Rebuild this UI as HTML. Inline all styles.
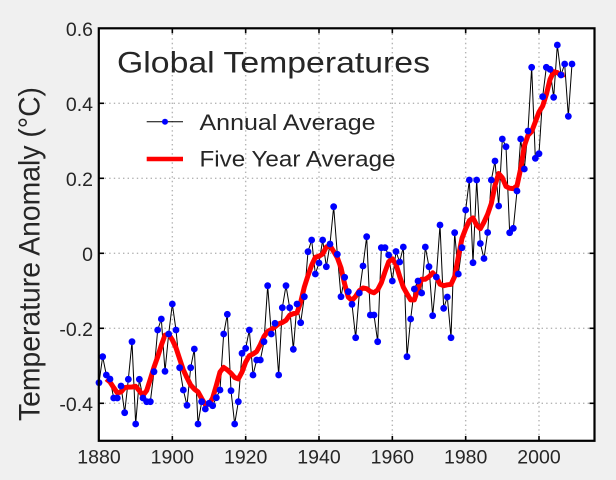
<!DOCTYPE html>
<html>
<head>
<meta charset="utf-8">
<style>
html,body{margin:0;padding:0;background:#f0f0f0;}
svg{display:block;}
text{font-family:"Liberation Sans",Arial,sans-serif;fill:#262626;}
</style>
</head>
<body>
<svg width="616" height="480" viewBox="0 0 616 480" xmlns="http://www.w3.org/2000/svg">
<defs>
<marker id="dot" markerUnits="userSpaceOnUse" markerWidth="8" markerHeight="8" refX="4" refY="4" overflow="visible">
<circle cx="4" cy="4" r="3.4" fill="#0000ff"/>
</marker>
</defs>
<rect x="0" y="0" width="616" height="480" fill="#f0f0f0"/>
<rect x="98.8" y="28.3" width="495.7" height="412.5" fill="#ffffff"/>

<!-- grid -->
<g stroke="#b4b4b4" stroke-width="1.4" stroke-dasharray="1.4 3.2" fill="none">
<line x1="172.33" y1="29" x2="172.33" y2="440"/>
<line x1="245.67" y1="29" x2="245.67" y2="440"/>
<line x1="319" y1="29" x2="319" y2="440"/>
<line x1="392.33" y1="29" x2="392.33" y2="440"/>
<line x1="465.67" y1="29" x2="465.67" y2="440"/>
<line x1="539" y1="29" x2="539" y2="440"/>
<line x1="100" y1="103.3" x2="594" y2="103.3"/>
<line x1="100" y1="178.3" x2="594" y2="178.3"/>
<line x1="100" y1="253.3" x2="594" y2="253.3"/>
<line x1="100" y1="328.3" x2="594" y2="328.3"/>
<line x1="100" y1="403.3" x2="594" y2="403.3"/>
</g>

<!-- annual black line -->
<polyline fill="none" stroke="#000" stroke-width="1" stroke-linejoin="round" points="99,382.7 102.67,356.7 106.33,375 110,379 113.67,398 117.33,398 121,386 124.67,412.7 128.33,379.3 132,341.7 135.67,424 139.33,379.3 143,398 146.67,401.7 150.33,401.7 154,371.7 157.67,330 161.33,319 165,371.3 168.67,334 172.33,304 176,330 179.67,367.7 183.33,390 187,405.3 190.67,367.7 194.33,349 198,424 201.67,401.7 205.33,409 209,403.3 212.67,405.7 216.33,397.7 220,390 223.67,334 227.33,314.3 231,390.7 234.67,424 238.33,401.7 242,353.3 245.67,348.3 249.33,330 253,375 256.67,360 260.33,360 264,341.7 267.67,285.7 271.33,334 275,323.3 278.67,375 282.33,307.7 286,285.7 289.67,307.7 293.33,349.3 297,304 300.67,322.7 304.33,296.7 308,251.7 311.67,240 315.33,274 319,263 322.67,240 326.33,266.7 330,244 333.67,206.7 337.33,254.3 341,296.7 344.67,277.3 348.33,291.7 352,304.3 355.67,337.7 359.33,293 363,266 366.67,236.7 370.33,315 374,315 377.67,341.7 381.33,247.7 385,247.7 388.67,255 392.33,281 396,251.5 399.67,262 403.33,247 407,356.7 410.67,319 414.33,289 418,281 421.67,293 425.33,247 429,266.7 432.67,315.7 436.33,277 440,225 443.67,308.3 447.33,297 451,337.7 454.67,232.7 458.33,274 462,247.7 465.67,210 469.33,180 473,262.7 476.67,180 480.33,243.5 484,258.5 487.67,232.5 491.33,180 495,161 498.67,206 502.33,139 506,146.7 509.67,232.7 513.33,228.3 517,191 520.67,139 524.33,169 528,131 531.67,67.3 535.33,158.3 539,153.7 542.67,96.7 546.33,67.3 550,69.3 553.67,97.3 557.33,45 561,75 564.67,64 568.33,116.3 572,64"/>

<!-- five year average (smoothed) -->
<polyline fill="none" stroke="#ff0000" stroke-width="5" stroke-linejoin="round" stroke-linecap="butt" points="106.33,379 110,382 113.67,387.6 117.33,392.9 121,392 124.67,387.6 128.33,387.1 132,387 135.67,386.3 139.33,390.8 143,395.3 146.67,390.6 150.33,379.1 154,367.2 157.67,356.9 161.33,345.2 165,335.1 168.67,334.1 172.33,339.9 176,347.8 179.67,359 183.33,369.9 187,377.8 190.67,385 194.33,389.1 198,391.9 201.67,398.5 205.33,404.6 209,404.2 212.67,398 216.33,385.4 220,372 223.67,367.4 227.33,369.9 231,373.3 234.67,377.5 238.33,378.9 242,372.1 245.67,362.1 249.33,355.8 253,354 256.67,351.5 260.33,344.7 264,336.5 267.67,331.5 271.33,329.5 275,326.8 278.67,323.8 282.33,322.5 286,320.3 289.67,315.2 293.33,313.7 297,312.8 300.67,302.2 304.33,287 308,275.5 311.67,265.2 315.33,257.3 319,256.2 322.67,254 326.33,247 330,245.6 333.67,251.4 337.33,257.7 341,267.8 344.67,284.2 348.33,297.2 352,300.4 355.67,296.3 359.33,290.8 363,288 366.67,288.7 370.33,291.5 374,292.7 377.67,289.9 381.33,282.7 385,271.8 388.67,261.8 392.33,258.7 396,264.4 399.67,276.4 403.33,287.2 407,293.8 410.67,299.9 414.33,299.9 418,288.7 421.67,279.3 425.33,279.2 429,276.7 432.67,272.8 436.33,277 440,284.2 443.67,285.7 447.33,284.8 451,284.4 454.67,276.5 458.33,256.9 462,238.3 465.67,228.7 469.33,220.6 473,217.9 476.67,225.1 480.33,228.7 484,222.1 487.67,214.2 491.33,203.5 495,185.4 498.67,173.5 502.33,177.8 506,186.4 509.67,188.3 513.33,188.6 517,185.8 520.67,168.7 524.33,145.9 528,135.3 531.67,131.5 535.33,121.9 539,112 542.67,106 546.33,94.5 550,79.5 553.67,71.7 557.33,72.6 561,75.5 564.67,74.6"/>

<!-- annual dots -->
<polyline fill="none" stroke="none" marker-start="url(#dot)" marker-mid="url(#dot)" marker-end="url(#dot)" points="99,382.7 102.67,356.7 106.33,375 110,379 113.67,398 117.33,398 121,386 124.67,412.7 128.33,379.3 132,341.7 135.67,424 139.33,379.3 143,398 146.67,401.7 150.33,401.7 154,371.7 157.67,330 161.33,319 165,371.3 168.67,334 172.33,304 176,330 179.67,367.7 183.33,390 187,405.3 190.67,367.7 194.33,349 198,424 201.67,401.7 205.33,409 209,403.3 212.67,405.7 216.33,397.7 220,390 223.67,334 227.33,314.3 231,390.7 234.67,424 238.33,401.7 242,353.3 245.67,348.3 249.33,330 253,375 256.67,360 260.33,360 264,341.7 267.67,285.7 271.33,334 275,323.3 278.67,375 282.33,307.7 286,285.7 289.67,307.7 293.33,349.3 297,304 300.67,322.7 304.33,296.7 308,251.7 311.67,240 315.33,274 319,263 322.67,240 326.33,266.7 330,244 333.67,206.7 337.33,254.3 341,296.7 344.67,277.3 348.33,291.7 352,304.3 355.67,337.7 359.33,293 363,266 366.67,236.7 370.33,315 374,315 377.67,341.7 381.33,247.7 385,247.7 388.67,255 392.33,281 396,251.5 399.67,262 403.33,247 407,356.7 410.67,319 414.33,289 418,281 421.67,293 425.33,247 429,266.7 432.67,315.7 436.33,277 440,225 443.67,308.3 447.33,297 451,337.7 454.67,232.7 458.33,274 462,247.7 465.67,210 469.33,180 473,262.7 476.67,180 480.33,243.5 484,258.5 487.67,232.5 491.33,180 495,161 498.67,206 502.33,139 506,146.7 509.67,232.7 513.33,228.3 517,191 520.67,139 524.33,169 528,131 531.67,67.3 535.33,158.3 539,153.7 542.67,96.7 546.33,67.3 550,69.3 553.67,97.3 557.33,45 561,75 564.67,64 568.33,116.3 572,64"/>

<!-- frame -->
<rect x="98.8" y="28.3" width="495.7" height="412.5" fill="none" stroke="#000" stroke-width="2.2"/>

<!-- ticks -->
<g stroke="#000" stroke-width="1.6">
<line x1="172.33" y1="441" x2="172.33" y2="436"/>
<line x1="245.67" y1="441" x2="245.67" y2="436"/>
<line x1="319" y1="441" x2="319" y2="436"/>
<line x1="392.33" y1="441" x2="392.33" y2="436"/>
<line x1="465.67" y1="441" x2="465.67" y2="436"/>
<line x1="539" y1="441" x2="539" y2="436"/>
<line x1="172.33" y1="28.3" x2="172.33" y2="33.3"/>
<line x1="245.67" y1="28.3" x2="245.67" y2="33.3"/>
<line x1="319" y1="28.3" x2="319" y2="33.3"/>
<line x1="392.33" y1="28.3" x2="392.33" y2="33.3"/>
<line x1="465.67" y1="28.3" x2="465.67" y2="33.3"/>
<line x1="539" y1="28.3" x2="539" y2="33.3"/>
<line x1="99" y1="103.3" x2="104" y2="103.3"/>
<line x1="99" y1="178.3" x2="104" y2="178.3"/>
<line x1="99" y1="253.3" x2="104" y2="253.3"/>
<line x1="99" y1="328.3" x2="104" y2="328.3"/>
<line x1="99" y1="403.3" x2="104" y2="403.3"/>
<line x1="594.5" y1="103.3" x2="589.5" y2="103.3"/>
<line x1="594.5" y1="178.3" x2="589.5" y2="178.3"/>
<line x1="594.5" y1="253.3" x2="589.5" y2="253.3"/>
<line x1="594.5" y1="328.3" x2="589.5" y2="328.3"/>
<line x1="594.5" y1="403.3" x2="589.5" y2="403.3"/>
</g>

<!-- x tick labels -->
<g font-size="19.5" text-anchor="middle">
<text x="99" y="463.3">1880</text>
<text x="172.33" y="463.3">1900</text>
<text x="245.67" y="463.3">1920</text>
<text x="319" y="463.3">1940</text>
<text x="392.33" y="463.3">1960</text>
<text x="465.67" y="463.3">1980</text>
<text x="539" y="463.3">2000</text>
</g>

<!-- y tick labels -->
<g font-size="19.5" text-anchor="end">
<text x="93" y="36">0.6</text>
<text x="93" y="111">0.4</text>
<text x="93" y="186">0.2</text>
<text x="93" y="261">0</text>
<text x="93" y="336">-0.2</text>
<text x="93" y="411">-0.4</text>
</g>

<!-- y axis label -->
<text transform="translate(39.3,254) rotate(-90)" text-anchor="middle" font-size="30" textLength="334" lengthAdjust="spacingAndGlyphs">Temperature Anomaly (°C)</text>

<!-- title -->
<text x="117" y="72.5" font-size="30" textLength="313" lengthAdjust="spacingAndGlyphs">Global Temperatures</text>

<!-- legend -->
<line x1="146.7" y1="121.7" x2="183" y2="121.7" stroke="#000" stroke-width="1"/>
<circle cx="165" cy="121.7" r="3" fill="#0000ff"/>
<text x="199.5" y="130" font-size="22" textLength="176" lengthAdjust="spacingAndGlyphs">Annual Average</text>
<line x1="146.7" y1="159" x2="183" y2="159" stroke="#ff0000" stroke-width="4.5"/>
<text x="199.5" y="166.7" font-size="22" textLength="196" lengthAdjust="spacingAndGlyphs">Five Year Average</text>
</svg>
</body>
</html>
